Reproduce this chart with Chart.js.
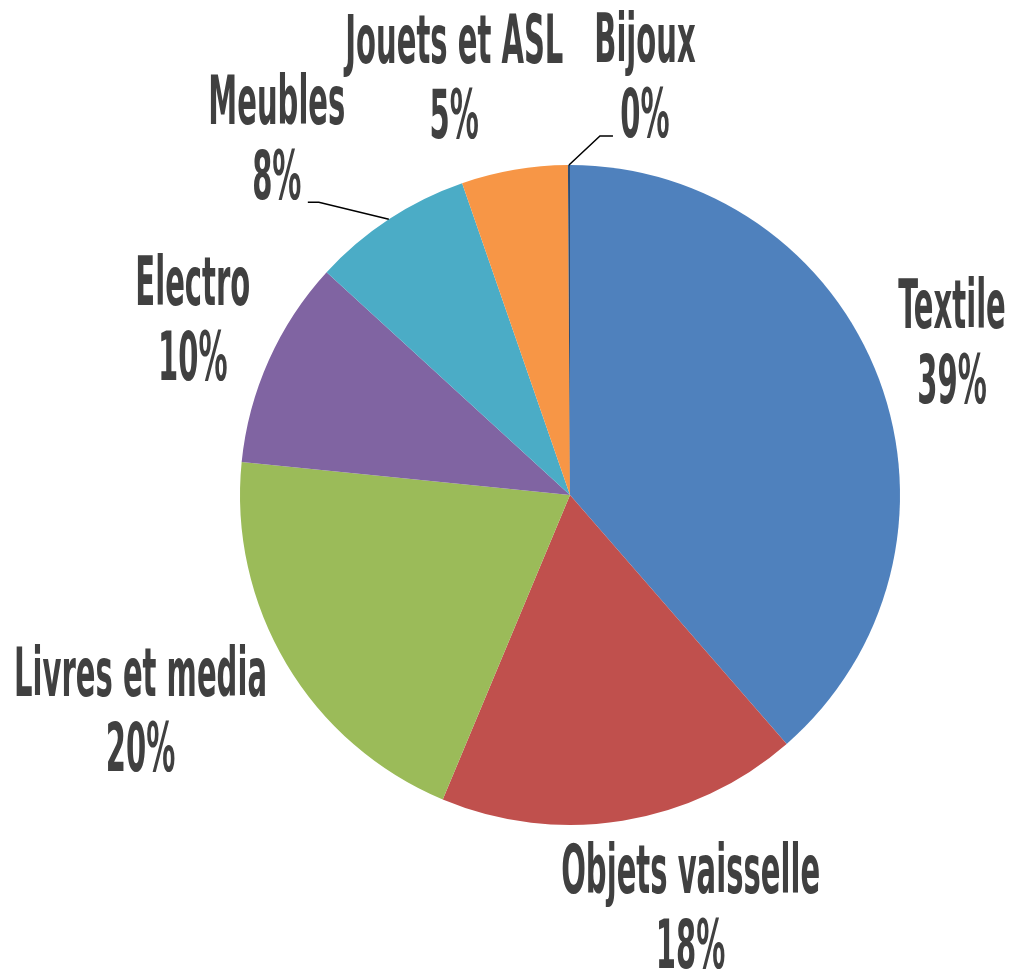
<!DOCTYPE html>
<html>
<head>
<meta charset="utf-8">
<script src="https://cdn.jsdelivr.net/npm/chart.js@4.4.1/dist/chart.umd.min.js"></script>
<style>
html,body{margin:0;padding:0;background:#fff;}
#c{display:block;}
</style>
</head>
<body>
<canvas id="c" width="1027" height="970"></canvas>
<script>
const categories = ['Textile', 'Objets vaisselle', 'Livres et media', 'Electro', 'Meubles', 'Jouets et ASL', 'Bijoux'];
const values = [38.6, 17.7, 20.3, 10.2, 7.9, 5.2, 0.1];
const colors = ['#4F81BD', '#C0504D', '#9BBB59', '#8064A2', '#4BACC6', '#F79646', '#2C4D75'];
// label centre offset from the slice's outer mid-point (px)
const labelOffsets = [[73, -38], [68, 85], [-146, 45], [-76, -42], [-112, -82], [-60, -94], [76, -90]];
// leader line start relative to label centre, plus horizontal run (null = no leader)
const leaders = [null, null, null, null, [31, 65, 11], null, [-32, 61, -13]];

const textColor = '#404040';
const fontSize = 60;
const scaleY = 1.12;
const baseline1 = -13;
const baseline2 = 62;

const labelPlugin = {
  id: 'pieLabels',
  afterDatasetsDraw(chart) {
    const ctx = chart.ctx;
    const meta = chart.getDatasetMeta(0);
    const total = values.reduce((a, b) => a + b, 0);
    ctx.save();
    ctx.font = 'bold ' + fontSize + 'px "Liberation Sans Narrow", "DejaVu Sans Condensed", "Liberation Sans", sans-serif';
    const condense = 253 / ctx.measureText('Livres et media').width;
    meta.data.forEach((arc, i) => {
      const p = arc.getProps(['x', 'y', 'startAngle', 'endAngle', 'outerRadius'], true);
      const mid = (p.startAngle + p.endAngle) / 2;
      const ex = p.x + Math.cos(mid) * p.outerRadius;
      const ey = p.y + Math.sin(mid) * p.outerRadius;
      const cx = ex + labelOffsets[i][0];
      const cy = ey + labelOffsets[i][1];
      const pct = Math.round(values[i] / total * 100) + '%';
      const lines = [categories[i], pct];
      lines.forEach((t, k) => {
        const ly = cy + (k === 0 ? baseline1 : baseline2);
        ctx.save();
        ctx.translate(cx, ly);
        ctx.scale(condense, scaleY);
        ctx.fillStyle = textColor;
        ctx.textAlign = 'center';
        ctx.textBaseline = 'alphabetic';
        ctx.fillText(t, 0, 0);
        ctx.restore();
      });
      const L = leaders[i];
      if (L) {
        const sx = cx + L[0], sy = cy + L[1];
        ctx.beginPath();
        ctx.moveTo(sx, sy);
        ctx.lineTo(sx + L[2], sy);
        ctx.lineTo(ex, ey);
        ctx.strokeStyle = '#000';
        ctx.lineWidth = 1.5;
        ctx.stroke();
      }
    });
    ctx.restore();
  }
};

new Chart(document.getElementById('c'), {
  type: 'pie',
  data: {
    labels: categories,
    datasets: [{
      data: values,
      backgroundColor: colors,
      borderWidth: 0,
      hoverOffset: 0
    }]
  },
  options: {
    responsive: false,
    animation: false,
    devicePixelRatio: 1,
    layout: { padding: { left: 240, right: 127, top: 165, bottom: 145 } },
    plugins: {
      legend: { display: false },
      tooltip: { enabled: false }
    }
  },
  plugins: [labelPlugin]
});
</script>
</body>
</html>
